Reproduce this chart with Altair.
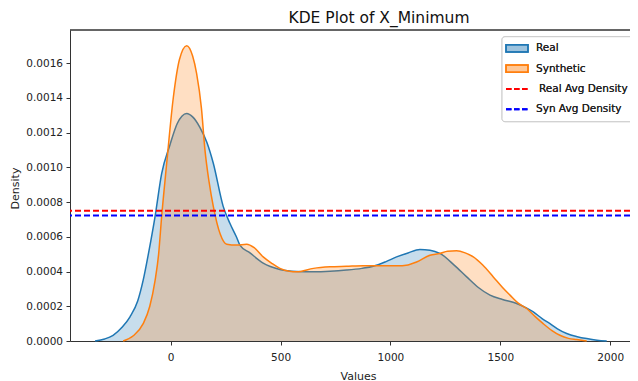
import altair as alt
import pandas as pd

# ---- data ----
real_x = [-344, -300, -262, -220, -185, -150, -125, -100, -71, -41, -3, 30, 73, 100, 133, 165, 194, 239, 270,
          300, 315, 361, 421, 497, 573, 649, 725, 800, 870, 922, 980, 1028, 1080, 1134, 1180, 1225, 1290,
          1347, 1400, 1453, 1510, 1574, 1620, 1650, 1690, 1726, 1760, 1802, 1850, 1893, 1940, 1984]
real_y = [0.0, 0.000012, 0.000033, 0.00008, 0.000139, 0.00023, 0.00035, 0.00051, 0.000716, 0.000963, 0.00113,
          0.001252, 0.00131, 0.00129, 0.00123, 0.001142, 0.001023, 0.000775, 0.000676, 0.000597, 0.000552,
          0.000507, 0.000448, 0.000412, 0.0004, 0.000398, 0.000401, 0.000408, 0.000418, 0.00043, 0.000457,
          0.000484, 0.000507, 0.000527, 0.000523, 0.000504, 0.000437, 0.000369, 0.000308, 0.000264, 0.000239,
          0.000216, 0.000189, 0.000167, 0.000129, 0.0001, 0.00007, 0.000043, 0.000025, 0.000014, 0.000005, 0.0]

syn_x = [-216, -170, -125, -95, -71, -55, -41, -18, 12, 40, 73, 100, 118, 140, 156, 175, 194, 225, 255, 300,
         346, 380, 421, 460, 497, 540, 573, 650, 725, 800, 876, 950, 1028, 1080, 1119, 1180, 1225, 1260, 1301,
         1340, 1377, 1420, 1468, 1510, 1544, 1580, 1620, 1660, 1695, 1735, 1771, 1810, 1847, 1893]
syn_y = [0.0, 0.00003, 0.0001, 0.0002, 0.000348, 0.000497, 0.000716, 0.001023, 0.0014, 0.00162, 0.0017,
         0.00164, 0.00154, 0.00134, 0.0011, 0.000914, 0.000775, 0.000617, 0.000557, 0.000552, 0.000557,
         0.000537, 0.000484, 0.000447, 0.000418, 0.000401, 0.000398, 0.000418, 0.000427, 0.00043, 0.000433,
         0.000433, 0.000433, 0.000438, 0.000455, 0.000494, 0.000504, 0.000517, 0.000519, 0.000507, 0.000484,
         0.000437, 0.000369, 0.000308, 0.000264, 0.000219, 0.000187, 0.000139, 0.0001, 0.00006, 0.000033,
         0.000015, 0.000008, 0.0]

avg_labels = ["Real Avg Density", "Syn Avg Density"]
avg_values = [0.00075, 0.000723]

series_labels = ["Real", "Synthetic"]
x_ticks = [0, 500, 1000, 1500, 2000]
y_ticks = [0.0, 0.0002, 0.0004, 0.0006, 0.0008, 0.0010, 0.0012, 0.0014, 0.0016]

BLUE = "#1f77b4"
ORANGE = "#ff7f0e"
FONT = "DejaVu Sans"

W, H = 560, 311
X_DOM = [-458, 2090]
Y_DOM = [0, 0.00179]

df_real = pd.DataFrame({"x": real_x, "y": real_y})
df_syn = pd.DataFrame({"x": syn_x, "y": syn_y})
df_avg = pd.DataFrame({"label": avg_labels, "y": avg_values})

xs = alt.Scale(domain=X_DOM, nice=False, zero=False)
ys = alt.Scale(domain=Y_DOM, nice=False, zero=False)

x_axis = alt.Axis(values=x_ticks, format="d", title="Values", grid=False, labelOverlap=False,
                  tickSize=4, labelPadding=7, labelFontSize=10.5, labelFont=FONT, labelColor="#222",
                  domainColor="#333", tickColor="#333", titleFont=FONT, titleFontSize=11,
                  titleFontWeight="normal", titleColor="#222", titleX=288, titleY=38,
                  titleBaseline="alphabetic", titleAlign="center")
y_axis = alt.Axis(values=y_ticks, format=".4f", title="Density", grid=False, labelOverlap=False,
                  tickSize=4, labelPadding=3.5, labelFontSize=10.5, labelFont=FONT, labelColor="#222",
                  domainColor="#333", tickColor="#333", titleFont=FONT, titleFontSize=11,
                  titleFontWeight="normal", titleColor="#222", titleX=-55, titleY=158,
                  titleAngle=270, titleBaseline="middle", titleAlign="center")

X = alt.X("x:Q", scale=xs, axis=x_axis)
Y = alt.Y("y:Q", scale=ys, axis=y_axis)

base_real = alt.Chart(df_real)
base_syn = alt.Chart(df_syn)

real_area = base_real.mark_area(interpolate="monotone", color=BLUE, fillOpacity=0.25).encode(x=X, y=Y)
real_line = base_real.mark_line(interpolate="monotone", color=BLUE, strokeWidth=1.5).encode(x=X, y=Y)
syn_area = base_syn.mark_area(interpolate="monotone", color=ORANGE, fillOpacity=0.25).encode(x=X, y=Y)
syn_line = base_syn.mark_line(interpolate="monotone", color=ORANGE, strokeWidth=1.5).encode(x=X, y=Y)

avg_rules = alt.Chart(df_avg).mark_rule(strokeWidth=2, strokeDash=[6, 3]).encode(
    y=Y,
    color=alt.Color("label:N", scale=alt.Scale(domain=avg_labels, range=["#ff0000", "#0000ff"]), legend=None))

# top frame line
top_line = alt.Chart(df_avg).mark_rule(color="#333", strokeWidth=1).encode(
    x=alt.value(0), x2=alt.value(W + 40), y=alt.value(0))

# ---- legend (inside the axes, upper right) ----
LX, LY0, ROW = 432, 18.3, 20.3
legend_layers = [
    alt.Chart(df_avg).mark_rect(fill="white", fillOpacity=0.8, stroke="#cccccc", strokeWidth=1,
                                cornerRadius=3).encode(
        x=alt.value(LX), x2=alt.value(LX + 200), y=alt.value(6.7), y2=alt.value(91.7))
]
fills = [BLUE, ORANGE]
for i, lab in enumerate(series_labels):
    cy = LY0 + ROW * i
    legend_layers.append(
        alt.Chart(df_avg).mark_rect(fill=fills[i], fillOpacity=0.25, stroke=fills[i], strokeWidth=1.5).encode(
            x=alt.value(LX + 4), x2=alt.value(LX + 26), y=alt.value(cy - 3.6), y2=alt.value(cy + 3.6)))
    legend_layers.append(
        alt.Chart(df_avg).mark_text(text=lab, align="left", baseline="middle", font=FONT, fontSize=10.5,
                                    color="#222").encode(x=alt.value(LX + 34), y=alt.value(cy)))
line_cols = ["#ff0000", "#0000ff"]
text_dx = [37, 34]
for j, lab in enumerate(avg_labels):
    cy = LY0 + ROW * (j + 2)
    legend_layers.append(
        alt.Chart(df_avg).mark_rule(color=line_cols[j], strokeWidth=2, strokeDash=[5.5, 2.5]).encode(
            x=alt.value(LX + 4), x2=alt.value(LX + 26), y=alt.value(cy)))
    legend_layers.append(
        alt.Chart(df_avg).mark_text(text=lab, align="left", baseline="middle", font=FONT, fontSize=10.5,
                                    color="#222").encode(x=alt.value(LX + text_dx[j]), y=alt.value(cy)))

chart = alt.layer(real_area, real_line, syn_area, syn_line, avg_rules, top_line, *legend_layers).properties(
    width=W, height=H,
    title=alt.TitleParams("KDE Plot of X_Minimum", font=FONT, fontSize=15.5, fontWeight="normal",
                          color="#111", anchor="middle", dx=29, offset=3),
    autosize=alt.AutoSizeParams(type="none"),
    padding={"left": 62, "top": 22, "right": 0, "bottom": 40},
).configure_view(stroke=None).configure_axis(labelOverlap=False)

chart.save("out.html", embed_options={"renderer": "svg", "actions": False})
